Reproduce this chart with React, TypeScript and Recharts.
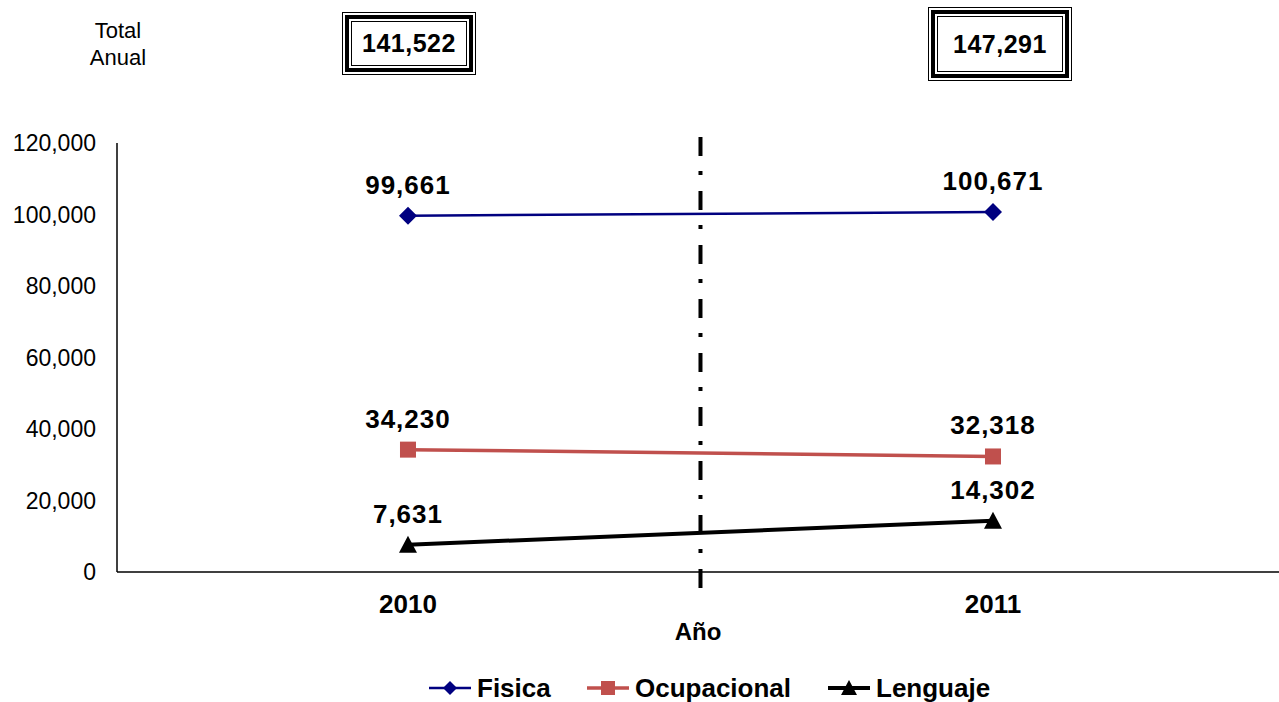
import React from 'react';
import { LineChart, Line, XAxis, YAxis, ReferenceLine, LabelList } from 'recharts';

// Years on the category axis
const years = [2010, 2011];
// Annual attendance by therapy type
const fisica = [99661, 100671];
const ocupacional = [34230, 32318];
const lenguaje = [7631, 14302];
// Yearly totals shown in the framed boxes
const totals = [141522, 147291];
// Y axis ticks
const yTicks = [0, 20000, 40000, 60000, 80000, 100000, 120000];

const seriesNames = ['Fisica', 'Ocupacional', 'Lenguaje'];
const NAVY = '#000080';
const RED = '#C0504D';
const BLACK = '#000000';
const FONT = '"Liberation Sans", Arial, Helvetica, sans-serif';

const rows = years.map((year, i) => ({
  year,
  fisica: fisica[i],
  ocupacional: ocupacional[i],
  lenguaje: lenguaje[i],
}));

const fmt = (v: any) => Number(v).toLocaleString('en-US');

const Diamond = (props: any) => {
  const { cx, cy, size = 9, fill = NAVY } = props;
  if (cx == null || cy == null) return null;
  return (
    <polygon
      points={`${cx},${cy - size} ${cx + size},${cy} ${cx},${cy + size} ${cx - size},${cy}`}
      fill={fill}
      stroke="none"
    />
  );
};

const Square = (props: any) => {
  const { cx, cy, size = 8, fill = RED } = props;
  if (cx == null || cy == null) return null;
  return <rect x={cx - size} y={cy - size} width={size * 2} height={size * 2} fill={fill} />;
};

const Triangle = (props: any) => {
  const { cx, cy, size = 9, fill = BLACK } = props;
  if (cx == null || cy == null) return null;
  return (
    <polygon
      points={`${cx},${cy - size} ${cx + size},${cy + size - 1} ${cx - size},${cy + size - 1}`}
      fill={fill}
    />
  );
};

const labelStyle = { fontSize: 26, fontWeight: 700, fill: '#000', letterSpacing: 1 };

// Framed total with a triple border (thin / thick / thin)
const TotalBox = ({ value, left, top, width, height }: any) => (
  <div
    style={{
      position: 'absolute',
      left,
      top,
      width,
      height,
      boxSizing: 'border-box',
      border: '1.5px solid #000',
      padding: 2,
      background: '#fff',
    }}
  >
    <div
      style={{
        width: '100%',
        height: '100%',
        boxSizing: 'border-box',
        border: '4px solid #000',
        padding: 2,
      }}
    >
      <div
        style={{
          width: '100%',
          height: '100%',
          boxSizing: 'border-box',
          border: '1.5px solid #000',
          display: 'flex',
          alignItems: 'center',
          justifyContent: 'center',
          fontSize: 25,
          fontWeight: 700,
          letterSpacing: 0.5,
        }}
      >
        {fmt(value)}
      </div>
    </div>
  </div>
);

const LegendIcon = ({ kind }: any) => {
  const color = kind === 0 ? NAVY : kind === 1 ? RED : BLACK;
  const width = kind === 0 ? 2.5 : kind === 1 ? 3.5 : 4;
  return (
    <svg width={44} height={20} style={{ display: 'block' }}>
      <line x1={1} y1={10} x2={43} y2={10} stroke={color} strokeWidth={width} />
      {kind === 0 && <Diamond cx={22} cy={10} size={7} fill={NAVY} />}
      {kind === 1 && <Square cx={22} cy={10} size={7} fill={RED} />}
      {kind === 2 && <Triangle cx={22} cy={10} size={8} fill={BLACK} />}
    </svg>
  );
};

// Left edge of each legend entry
const legendLeft = [428, 586, 827];

export default function App() {
  return (
    <div
      style={{
        position: 'absolute',
        left: 0,
        top: 0,
        width: 1279,
        height: 702,
        background: '#fff',
        fontFamily: FONT,
        color: '#000',
        overflow: 'hidden',
      }}
    >
      <div
        style={{
          position: 'absolute',
          left: 68,
          top: 17,
          width: 100,
          textAlign: 'center',
          fontSize: 22,
          lineHeight: '27px',
        }}
      >
        Total
        <br />
        Anual
      </div>
      <TotalBox value={totals[0]} left={342} top={12} width={134} height={63} />
      <TotalBox value={totals[1]} left={928} top={7} width={144} height={74} />

      <LineChart
        width={1279}
        height={702}
        data={rows}
        margin={{ top: 143, right: 0, left: 0, bottom: 60 }}
        style={{ fontFamily: FONT }}
      >
        <XAxis
          dataKey="year"
          type="number"
          domain={[2009.5026, 2011.4889]}
          ticks={years}
          tickFormatter={(v: any) => String(v)}
          axisLine={{ stroke: '#000', strokeWidth: 1.5 }}
          tickLine={false}
          tickSize={0}
          tickMargin={23}
          height={70}
          tick={{ fill: '#000', fontSize: 26, fontWeight: 700 }}
          label={{
            value: 'Año',
            position: 'insideBottom',
            offset: 2,
            style: { fill: '#000', fontSize: 24, fontWeight: 700 },
          }}
        />
        <YAxis
          type="number"
          domain={[0, 120000]}
          ticks={yTicks}
          tickFormatter={fmt}
          width={117}
          axisLine={{ stroke: '#000', strokeWidth: 1.5 }}
          tickLine={false}
          tickSize={0}
          tickMargin={21}
          tick={{ fill: '#000', fontSize: 23 }}
        />
        <ReferenceLine
          segment={[
            { x: 2010.5, y: 121700 },
            { x: 2010.5, y: -4480 },
          ]}
          ifOverflow="visible"
          stroke="#000"
          strokeWidth={4}
          strokeDasharray="19 15 4 16"
        />
        <Line
          type="linear"
          dataKey="fisica"
          name={seriesNames[0]}
          stroke={NAVY}
          strokeWidth={2.5}
          dot={(p: any) => <Diamond key={`d-${p.index}`} cx={p.cx} cy={p.cy} size={9} fill={NAVY} />}
          activeDot={false}
          isAnimationActive={false}
        >
          <LabelList dataKey="fisica" position="top" offset={22} formatter={fmt} style={labelStyle} />
        </Line>
        <Line
          type="linear"
          dataKey="ocupacional"
          name={seriesNames[1]}
          stroke={RED}
          strokeWidth={3.5}
          dot={(p: any) => <Square key={`s-${p.index}`} cx={p.cx} cy={p.cy} size={8} fill={RED} />}
          activeDot={false}
          isAnimationActive={false}
        >
          <LabelList dataKey="ocupacional" position="top" offset={22} formatter={fmt} style={labelStyle} />
        </Line>
        <Line
          type="linear"
          dataKey="lenguaje"
          name={seriesNames[2]}
          stroke={BLACK}
          strokeWidth={4}
          dot={(p: any) => <Triangle key={`t-${p.index}`} cx={p.cx} cy={p.cy} size={9} fill={BLACK} />}
          activeDot={false}
          isAnimationActive={false}
        >
          <LabelList dataKey="lenguaje" position="top" offset={22} formatter={fmt} style={labelStyle} />
        </Line>
      </LineChart>

      {seriesNames.map((name, i) => (
        <div
          key={name}
          style={{
            position: 'absolute',
            left: legendLeft[i],
            top: 674,
            height: 28,
            display: 'flex',
            alignItems: 'center',
            fontSize: 26,
            fontWeight: 700,
          }}
        >
          <LegendIcon kind={i} />
          <span style={{ marginLeft: 5, whiteSpace: 'nowrap' }}>{name}</span>
        </div>
      ))}
    </div>
  );
}
